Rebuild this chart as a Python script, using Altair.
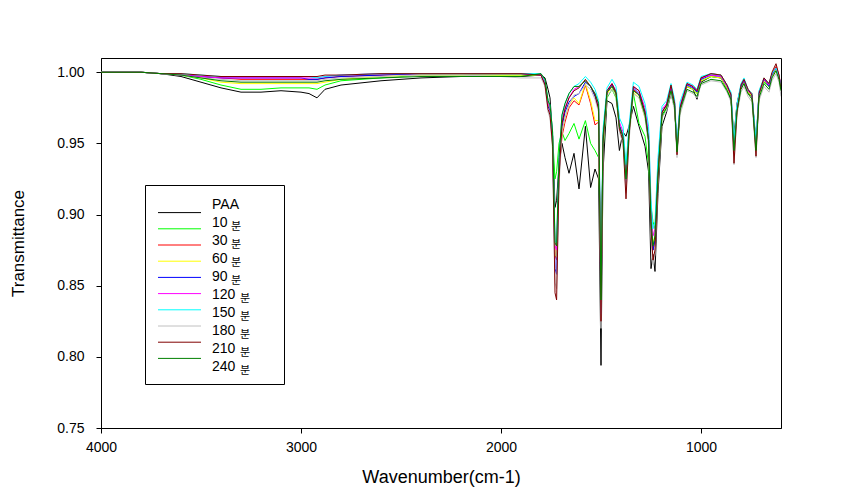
import altair as alt
import pandas as pd

# ---- wavenumber grid (cm-1), descending ----
wn_broad = [4000, 3800, 3700, 3600, 3500, 3400, 3300, 3200, 3100, 3000,
            2960, 2920, 2880, 2800, 2600, 2400, 2200, 2000, 1900]
wn_fp = [1800, 1780, 1765, 1755, 1742, 1730, 1722, 1710, 1695, 1680,
         1660, 1635, 1610, 1578, 1552, 1530, 1512, 1500, 1490, 1470,
         1445, 1425, 1408, 1390, 1375, 1360, 1338, 1310, 1280, 1262,
         1250, 1240, 1230, 1215, 1195, 1172, 1150, 1132, 1120, 1105,
         1070, 1040, 1020, 1000, 950, 900, 870, 850, 835, 820,
         800, 785, 765, 745, 725, 710, 685, 660, 645, 625,
         610, 600]
wavenumbers = wn_broad + wn_fp

series_names = ["PAA", "10분", "30분", "60분", "90분", "120분", "150분", "180분", "210분", "240분"]
series_colors = ["#000000", "#00ff00", "#ff0000", "#ffff00", "#0000ff",
                 "#ff00ff", "#00ffff", "#c0c0c0", "#800000", "#008000"]

paa = [1.000, 1.000, 0.999, 0.997, 0.993, 0.989, 0.986, 0.986, 0.987, 0.986,
       0.985, 0.982, 0.988, 0.991, 0.994, 0.996, 0.997, 0.997, 0.997,
       0.998, 0.996, 0.988, 0.982, 0.955, 0.905, 0.910, 0.935, 0.950, 0.940,
       0.929, 0.943, 0.918, 0.962, 0.919, 0.932, 0.925, 0.794, 0.930, 0.980,
       0.978, 0.968, 0.945, 0.958, 0.955, 0.962, 0.976, 0.962, 0.948, 0.930,
       0.862, 0.872, 0.860, 0.915, 0.962, 0.972, 0.985, 0.975, 0.948, 0.975,
       0.990, 0.988, 0.981, 0.993, 0.997, 0.996, 0.988, 0.980, 0.955, 0.978,
       0.990, 0.992, 0.985, 0.983, 0.950, 0.985, 0.995, 0.992, 0.998, 1.002,
       0.996, 0.990]
m10 = [1.000, 1.000, 0.999, 0.998, 0.995, 0.991, 0.988, 0.988, 0.989, 0.989,
       0.989, 0.988, 0.991, 0.994, 0.996, 0.998, 0.998, 0.998, 0.998,
       0.998, 0.993, 0.980, 0.975, 0.955, 0.925, 0.930, 0.950, 0.958, 0.952,
       0.957, 0.964, 0.953, 0.966, 0.950, 0.945, 0.940, 0.865, 0.945, 0.982,
       0.988, 0.982, 0.962, 0.955, 0.930, 0.958, 0.985, 0.964, 0.955, 0.935,
       0.905, 0.895, 0.890, 0.925, 0.968, 0.975, 0.987, 0.976, 0.946, 0.975,
       0.990, 0.988, 0.985, 0.994, 0.997, 0.996, 0.988, 0.982, 0.948, 0.976,
       0.990, 0.993, 0.986, 0.983, 0.948, 0.984, 0.993, 0.990, 0.997, 1.002,
       0.996, 0.990]
m30 = [1.000, 1.000, 0.999, 0.998, 0.997, 0.996, 0.995, 0.995, 0.995, 0.995,
       0.995, 0.995, 0.996, 0.997, 0.998, 0.999, 0.999, 0.999, 0.999,
       0.998, 0.992, 0.977, 0.974, 0.952, 0.872, 0.868, 0.930, 0.955, 0.965,
       0.975, 0.980, 0.977, 0.991, 0.978, 0.963, 0.965, 0.835, 0.950, 0.985,
       0.990, 0.985, 0.962, 0.955, 0.925, 0.958, 0.988, 0.984, 0.970, 0.952,
       0.895, 0.875, 0.882, 0.930, 0.972, 0.977, 0.990, 0.978, 0.945, 0.976,
       0.992, 0.990, 0.987, 0.996, 0.999, 0.998, 0.991, 0.985, 0.947, 0.977,
       0.991, 0.995, 0.988, 0.985, 0.948, 0.986, 0.996, 0.991, 0.999, 1.004,
       0.998, 0.990]
m60 = [1.000, 1.000, 0.999, 0.998, 0.996, 0.993, 0.992, 0.992, 0.992, 0.992,
       0.992, 0.992, 0.993, 0.995, 0.997, 0.998, 0.998, 0.998, 0.998,
       0.998, 0.992, 0.977, 0.974, 0.953, 0.872, 0.870, 0.932, 0.958, 0.968,
       0.977, 0.982, 0.978, 0.992, 0.980, 0.966, 0.966, 0.840, 0.952, 0.985,
       0.990, 0.984, 0.962, 0.956, 0.928, 0.958, 0.986, 0.982, 0.968, 0.952,
       0.900, 0.880, 0.885, 0.930, 0.971, 0.976, 0.988, 0.977, 0.946, 0.975,
       0.990, 0.988, 0.985, 0.994, 0.997, 0.996, 0.989, 0.983, 0.948, 0.976,
       0.990, 0.993, 0.986, 0.983, 0.948, 0.984, 0.994, 0.990, 0.997, 1.002,
       0.996, 0.988]
m90 = [1.000, 1.000, 0.999, 0.998, 0.997, 0.996, 0.996, 0.996, 0.996, 0.996,
       0.995, 0.995, 0.996, 0.997, 0.998, 0.999, 0.999, 0.999, 0.999,
       0.998, 0.992, 0.976, 0.973, 0.950, 0.862, 0.858, 0.928, 0.962, 0.972,
       0.979, 0.983, 0.985, 0.993, 0.990, 0.983, 0.975, 0.830, 0.952, 0.986,
       0.991, 0.986, 0.963, 0.955, 0.922, 0.958, 0.989, 0.985, 0.972, 0.955,
       0.895, 0.875, 0.882, 0.930, 0.972, 0.977, 0.989, 0.978, 0.944, 0.975,
       0.991, 0.989, 0.986, 0.995, 0.998, 0.997, 0.990, 0.984, 0.945, 0.975,
       0.990, 0.994, 0.987, 0.984, 0.946, 0.985, 0.995, 0.990, 0.998, 1.003,
       0.997, 0.990]
m120 = [1.000, 1.000, 0.999, 0.998, 0.997, 0.996, 0.996, 0.996, 0.996, 0.996,
        0.996, 0.996, 0.997, 0.998, 0.999, 0.999, 0.999, 0.999, 0.999,
        0.998, 0.993, 0.978, 0.975, 0.955, 0.878, 0.875, 0.935, 0.966, 0.975,
        0.982, 0.988, 0.990, 0.994, 0.990, 0.985, 0.977, 0.845, 0.955, 0.987,
        0.992, 0.987, 0.965, 0.958, 0.930, 0.960, 0.990, 0.987, 0.975, 0.958,
        0.905, 0.885, 0.890, 0.935, 0.974, 0.978, 0.990, 0.979, 0.947, 0.977,
        0.992, 0.990, 0.987, 0.996, 0.998, 0.997, 0.990, 0.984, 0.948, 0.976,
        0.991, 0.995, 0.987, 0.984, 0.948, 0.986, 0.995, 0.991, 0.999, 1.003,
        0.997, 0.990]
m150 = [1.000, 1.000, 0.999, 0.999, 0.998, 0.997, 0.997, 0.997, 0.997, 0.997,
        0.997, 0.996, 0.997, 0.998, 0.999, 0.999, 0.999, 0.999, 0.999,
        0.999, 0.994, 0.980, 0.977, 0.958, 0.882, 0.880, 0.940, 0.970, 0.978,
        0.985, 0.990, 0.992, 0.997, 0.993, 0.988, 0.980, 0.855, 0.960, 0.989,
        0.995, 0.990, 0.968, 0.962, 0.935, 0.962, 0.993, 0.990, 0.978, 0.962,
        0.910, 0.890, 0.895, 0.940, 0.976, 0.980, 0.992, 0.981, 0.950, 0.979,
        0.993, 0.991, 0.988, 0.997, 0.999, 0.998, 0.991, 0.986, 0.952, 0.978,
        0.992, 0.996, 0.988, 0.985, 0.952, 0.987, 0.996, 0.992, 0.999, 1.003,
        0.997, 0.990]
m180 = [1.000, 1.000, 0.999, 0.998, 0.996, 0.995, 0.994, 0.994, 0.994, 0.994,
        0.994, 0.994, 0.995, 0.996, 0.997, 0.998, 0.998, 0.997, 0.996,
        0.996, 0.990, 0.972, 0.968, 0.945, 0.852, 0.848, 0.920, 0.958, 0.968,
        0.977, 0.984, 0.985, 0.991, 0.988, 0.981, 0.972, 0.820, 0.948, 0.983,
        0.988, 0.983, 0.958, 0.950, 0.915, 0.952, 0.985, 0.982, 0.968, 0.948,
        0.885, 0.865, 0.872, 0.922, 0.968, 0.973, 0.985, 0.973, 0.940, 0.970,
        0.987, 0.985, 0.982, 0.991, 0.994, 0.993, 0.986, 0.979, 0.935, 0.970,
        0.986, 0.990, 0.983, 0.979, 0.940, 0.980, 0.990, 0.986, 0.994, 0.999,
        0.993, 0.983]
m210 = [1.000, 1.000, 0.999, 0.999, 0.998, 0.997, 0.997, 0.997, 0.997, 0.997,
        0.997, 0.997, 0.998, 0.998, 0.999, 0.999, 0.999, 0.999, 0.999,
        0.998, 0.991, 0.974, 0.970, 0.948, 0.845, 0.840, 0.925, 0.964, 0.974,
        0.982, 0.987, 0.989, 0.995, 0.990, 0.984, 0.974, 0.825, 0.950, 0.987,
        0.992, 0.986, 0.960, 0.952, 0.911, 0.955, 0.990, 0.987, 0.972, 0.952,
        0.890, 0.868, 0.875, 0.925, 0.972, 0.977, 0.991, 0.978, 0.942, 0.975,
        0.992, 0.990, 0.987, 0.996, 0.999, 0.998, 0.991, 0.984, 0.936, 0.972,
        0.991, 0.995, 0.988, 0.984, 0.941, 0.985, 0.996, 0.992, 1.000, 1.006,
        0.998, 0.988]
m240 = [1.000, 1.000, 0.999, 0.998, 0.996, 0.994, 0.993, 0.993, 0.993, 0.993,
        0.993, 0.993, 0.994, 0.995, 0.996, 0.997, 0.997, 0.997, 0.997,
        0.999, 0.995, 0.980, 0.977, 0.958, 0.880, 0.878, 0.940, 0.970, 0.978,
        0.985, 0.990, 0.990, 0.994, 0.990, 0.985, 0.978, 0.840, 0.955, 0.986,
        0.990, 0.985, 0.962, 0.955, 0.925, 0.958, 0.987, 0.984, 0.970, 0.952,
        0.895, 0.878, 0.885, 0.930, 0.970, 0.975, 0.987, 0.976, 0.944, 0.973,
        0.988, 0.986, 0.983, 0.992, 0.995, 0.994, 0.987, 0.981, 0.945, 0.973,
        0.988, 0.992, 0.985, 0.981, 0.945, 0.982, 0.992, 0.988, 0.996, 1.001,
        0.995, 0.987]

all_series = [paa, m10, m30, m60, m90, m120, m150, m180, m210, m240]

rows = []
for name, vals in zip(series_names, all_series):
    assert len(vals) == len(wavenumbers), (name, len(vals))
    for w, v in zip(wavenumbers, vals):
        rows.append({"wn": w, "T": v, "series": name})
df = pd.DataFrame(rows)

color_scale = alt.Scale(domain=series_names, range=series_colors)

lines = alt.Chart(df).mark_line(strokeWidth=1, clip=True).encode(
    x=alt.X("wn:Q",
            scale=alt.Scale(domain=[600, 4000], reverse=True, nice=False, zero=False),
            axis=alt.Axis(values=[4000, 3000, 2000, 1000], format="d",
                          title="Wavenumber(cm-1)", titleFontSize=18,
                          labelPadding=7, titleY=40, labelFlush=False)),
    y=alt.Y("T:Q",
            scale=alt.Scale(domain=[0.75, 1.01], nice=False, zero=False),
            axis=alt.Axis(values=[0.75, 0.80, 0.85, 0.90, 0.95, 1.00], format=".2f",
                          title="Transmittance", titleFontSize=17,
                          labelPadding=12, titleX=-74, labelFlush=False)),
    color=alt.Color("series:N", scale=color_scale, legend=None),
)

# ---- custom legend ----
legend_df = pd.DataFrame({
    "series": series_names,
    "num": [s.replace("분", "") for s in series_names],
    "suffix": ["분" if "분" in s else "" for s in series_names],
})
ly = alt.Y("series:N", scale=alt.Scale(domain=series_names, range=[146.5, 308.5], padding=0), axis=None)

box = alt.Chart(pd.DataFrame({"a": [0]})).mark_rect(
    fill="white", stroke="black", strokeWidth=1
).encode(x=alt.value(44.5), x2=alt.value(183.5), y=alt.value(127.5), y2=alt.value(326.5))

leg_rules = alt.Chart(legend_df).mark_rule(strokeWidth=1).encode(
    x=alt.value(57), x2=alt.value(100), y=ly,
    color=alt.Color("series:N", scale=color_scale, legend=None),
)

leg_text = alt.Chart(legend_df).mark_text(
    align="left", baseline="middle", font="Liberation Sans", fontSize=14, color="black"
).encode(x=alt.value(111), y=ly, text="num:N")

leg_suffix = alt.Chart(legend_df).transform_calculate(
    sx="111 + length(datum.num) * 9 + 1"
).mark_text(
    align="left", baseline="middle", font="Noto Sans CJK KR", fontSize=11, dy=4, color="black"
).encode(x=alt.X("sx:Q", scale=None, axis=None), y=ly, text="suffix:N")

chart = alt.layer(lines, box, leg_rules, leg_text, leg_suffix).resolve_scale(
    x="independent", y="independent"
).properties(
    width=680, height=370,
    padding={"left": 93, "top": 50, "right": 50, "bottom": 62},
    autosize=alt.AutoSizeParams(type="none"),
).configure_view(
    stroke="black", strokeWidth=1
).configure_axis(
    labelFont="Liberation Sans", labelFontSize=14, labelColor="black",
    titleFont="Liberation Sans", titleFontWeight="normal", titleColor="black",
    tickColor="black", domainColor="black", tickSize=5, grid=False,
)

chart.save("out.html", embed_options={"renderer": "svg", "actions": False})
